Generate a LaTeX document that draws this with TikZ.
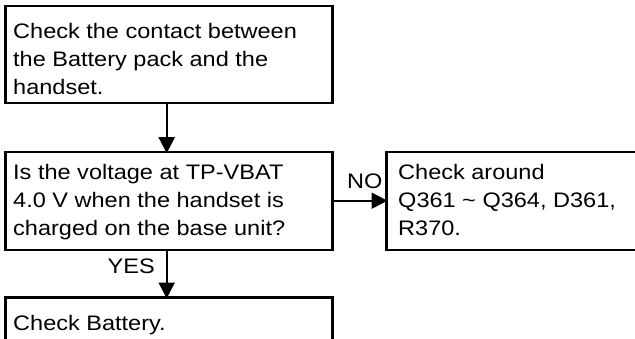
\documentclass[tikz,border=0pt]{standalone}
\usepackage{fontspec}
\setmainfont{Liberation Sans}[FakeStretch=1.12]
\usetikzlibrary{arrows.meta}
\begin{document}
\begin{tikzpicture}[x=1pt,y=-1pt,
  box/.style={draw, line width=2.5pt, anchor=north west, inner sep=0pt, outer sep=0pt},
  txt/.style={anchor=base west, inner sep=0pt, align=left, font=\fontsize{21}{28}\selectfont},
  lbl/.style={inner sep=0pt, font=\fontsize{21}{28}\selectfont},
  conn/.style={line width=2.2pt, -{Triangle[length=16pt,width=16pt]}, shorten >=-1.2pt}]
\useasboundingbox (0,0) rectangle (635,338);
\node[box, minimum width=327pt, minimum height=97pt] (b1) at (5.3,6) {};
\node[box, minimum width=327pt, minimum height=98pt] (b2) at (5.3,152) {};
\node[box, minimum width=260pt, minimum height=98pt] (b3) at (386.3,152) {};
\node[box, minimum width=327pt, minimum height=60pt] (b4) at (5.3,297.3) {};
\node[txt] (t1) at (13,94) {Check the contact between\\the Battery pack and the\\handset.};
\node[txt] (t2) at (13,235) {Is the voltage at TP-VBAT\\4.0 V when the handset is\\charged on the base unit?};
\node[txt] (t3) at (398,235) {Check around\\Q361 \textasciitilde{} Q364, D361,\\R370.};
\node[txt] (t4) at (13,330) {Check Battery.};
\draw[conn] (b1.south -| 166.7,0) -- (b2.north -| 166.7,0);
\draw[conn] (b2.south -| 166.7,0) -- (b4.north -| 166.7,0);
\draw[conn] (b2.east |- 0,200.7) -- (b3.west |- 0,200.7);
\node[lbl, anchor=base east] (yes) at (155,273) {YES};
\node[lbl, anchor=base west] (no) at (347,188) {NO};
\end{tikzpicture}
\end{document}
